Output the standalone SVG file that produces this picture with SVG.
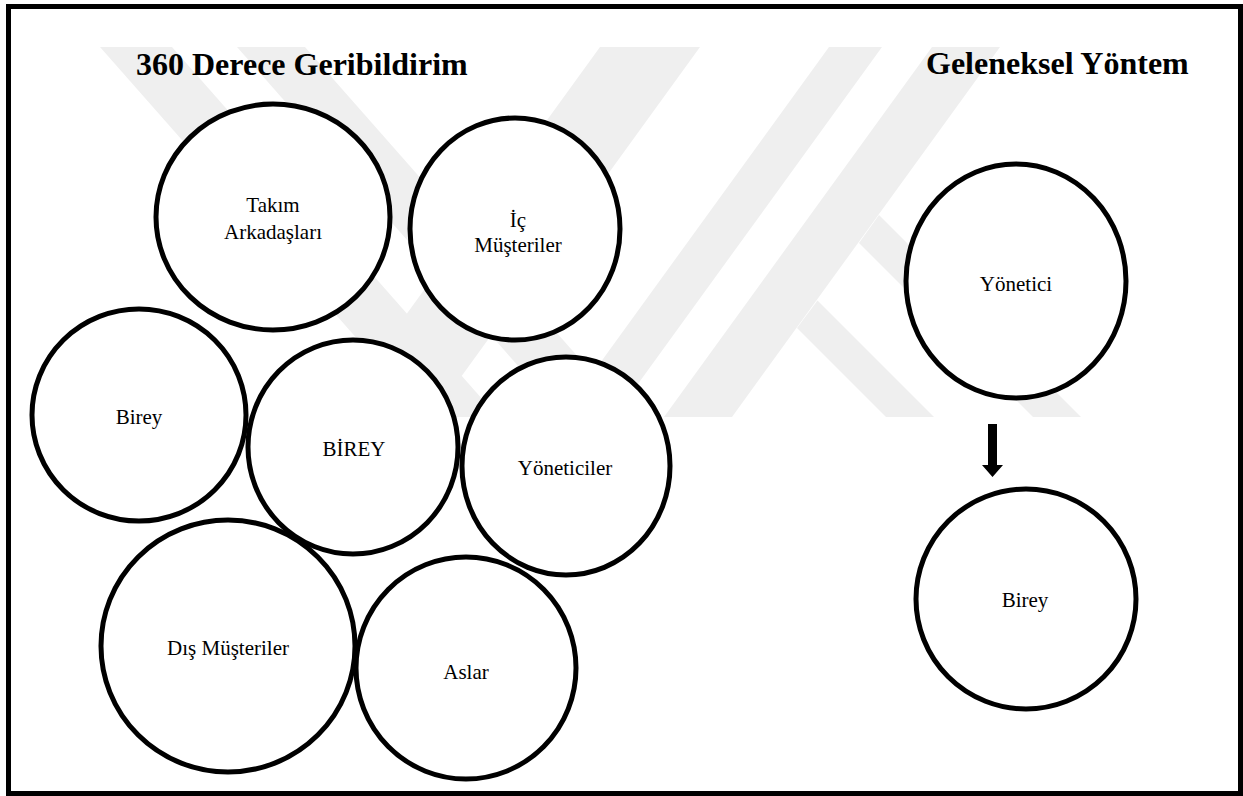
<svg xmlns="http://www.w3.org/2000/svg" width="1243" height="796" viewBox="0 0 1243 796">
<style>
.node ellipse{fill:#ffffff;stroke:#000;stroke-width:5}
.lbl{font-family:"Liberation Serif","Times New Roman",serif;font-size:21px;fill:#000;text-anchor:middle}
.ttl{font-family:"Liberation Serif","Times New Roman",serif;font-size:32px;font-weight:bold;fill:#000}
.wm{fill:#efefef}
</style>
<defs>
<clipPath id="wmclip"><rect x="90" y="47" width="1080" height="370"/></clipPath>
</defs>
<rect x="0" y="0" width="1243" height="796" fill="#ffffff"/>
<g id="watermark" clip-path="url(#wmclip)">
<polygon class="wm" points="100,47 172,47 498,417 426,417"/>
<polygon class="wm" points="237,47 305,47 631,417 563,417"/>
<polygon class="wm" points="600,47 700,47 432,417 332,417"/>
<polygon class="wm" points="829,47 882,47 614,417 561,417"/>
<polygon class="wm" points="932,47 1000,47 732,417 664,417"/>
<polygon class="wm" points="879,215 1081,417 1033,417 859,243"/>
<polygon class="wm" points="817.5,300.5 934,417 886,417 797,328"/>
</g>
<rect id="frame" x="8.5" y="6.5" width="1232" height="787" fill="none" stroke="#000" stroke-width="5"/>
<text class="ttl" x="136" y="75">360 Derece Geribildirim</text>
<text class="ttl" x="926" y="74">Geleneksel Yöntem</text>
<g id="takim" class="node"><ellipse cx="273" cy="217" rx="117" ry="113"/><text class="lbl" x="273" y="212">Takım</text><text class="lbl" x="273" y="239">Arkadaşları</text></g>
<g id="ic" class="node"><ellipse cx="515" cy="229" rx="105" ry="111"/><text class="lbl" x="518" y="227">İç</text><text class="lbl" x="518" y="252">Müşteriler</text></g>
<g id="birey-sol" class="node"><ellipse cx="139" cy="415" rx="107" ry="106"/><text class="lbl" x="139" y="424">Birey</text></g>
<g id="birey-merkez" class="node"><ellipse cx="353" cy="447" rx="105" ry="107"/><text class="lbl" x="354" y="456">BİREY</text></g>
<g id="yoneticiler" class="node"><ellipse cx="566" cy="466" rx="104" ry="109"/><text class="lbl" x="565" y="475">Yöneticiler</text></g>
<g id="dis" class="node"><ellipse cx="228" cy="646" rx="127" ry="126"/><text class="lbl" x="228" y="655">Dış Müşteriler</text></g>
<g id="aslar" class="node"><ellipse cx="466" cy="668" rx="110" ry="111"/><text class="lbl" x="466" y="679">Aslar</text></g>
<g id="yonetici" class="node"><ellipse cx="1016" cy="281" rx="110" ry="117"/><text class="lbl" x="1016" y="291">Yönetici</text></g>
<g id="birey-sag" class="node"><ellipse cx="1026" cy="599" rx="110" ry="110"/><text class="lbl" x="1025" y="607">Birey</text></g>
<g id="connectors"><polygon fill="#000" points="988,424 997,424 997,465 1003,465 992.5,477 982,465 988,465"/></g>
</svg>
